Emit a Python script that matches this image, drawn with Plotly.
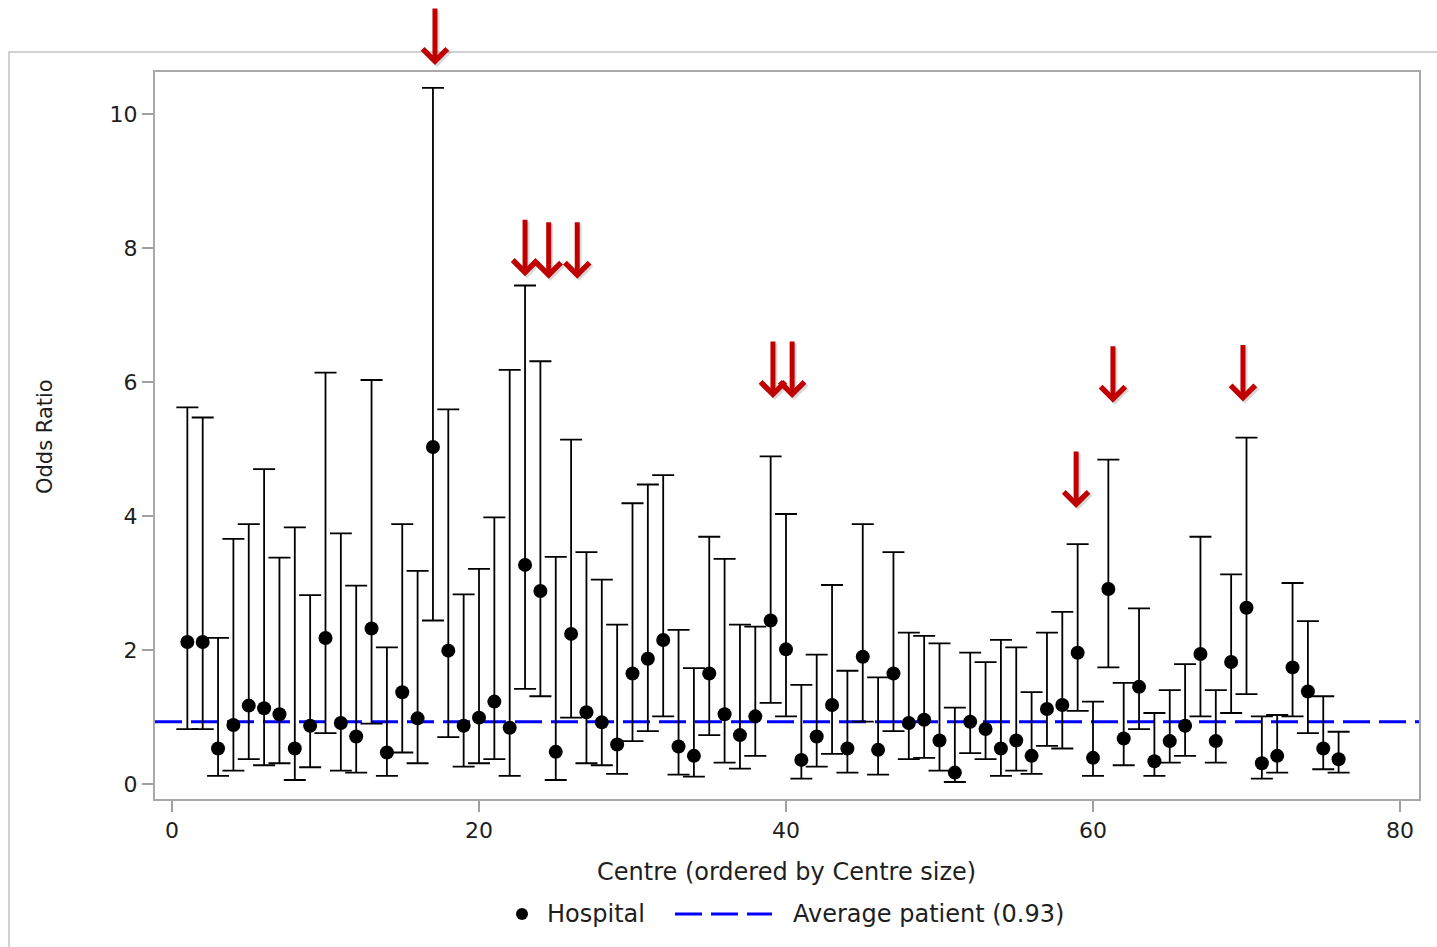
import plotly.graph_objects as go

# ---------------- data ----------------
centre = list(range(1, 77))

odds_ratio = [
    2.12, 2.12, 0.53, 0.88, 1.17, 1.13, 1.04, 0.53, 0.87, 2.18,
    0.91, 0.71, 2.32, 0.47, 1.37, 0.98, 5.03, 1.99, 0.87, 0.99,
    1.23, 0.84, 3.27, 2.88, 0.48, 2.24, 1.07, 0.92, 0.59, 1.65,
    1.87, 2.15, 0.56, 0.42, 1.65, 1.04, 0.73, 1.01, 2.44, 2.01,
    0.36, 0.71, 1.18, 0.53, 1.90, 0.51, 1.65, 0.91, 0.96, 0.65,
    0.17, 0.93, 0.82, 0.53, 0.65, 0.42, 1.12, 1.18, 1.96, 0.39,
    2.91, 0.68, 1.45, 0.34, 0.64, 0.87, 1.94, 0.64, 1.82, 2.63,
    0.31, 0.42, 1.74, 1.38, 0.53, 0.37,
]

upper_ci = [
    5.62, 5.47, 2.18, 3.66, 3.88, 4.70, 3.38, 3.83, 2.82, 6.14,
    3.74, 2.96, 6.03, 2.04, 3.88, 3.18, 10.39, 5.59, 2.83, 3.21,
    3.98, 6.18, 7.44, 6.31, 3.39, 5.14, 3.46, 3.05, 2.38, 4.19,
    4.47, 4.61, 2.30, 1.73, 3.69, 3.36, 2.38, 2.35, 4.89, 4.03,
    1.48, 1.93, 2.97, 1.69, 3.88, 1.59, 3.46, 2.26, 2.21, 2.10,
    1.14, 1.96, 1.82, 2.15, 2.04, 1.37, 2.26, 2.57, 3.58, 1.23,
    4.84, 1.51, 2.62, 1.06, 1.40, 1.79, 3.69, 1.40, 3.13, 5.17,
    1.01, 1.03, 3.00, 2.43, 1.31, 0.78,
]

lower_ci = [
    0.82, 0.82, 0.12, 0.20, 0.37, 0.28, 0.31, 0.06, 0.25, 0.76,
    0.20, 0.17, 0.90, 0.12, 0.47, 0.31, 2.44, 0.70, 0.26, 0.31,
    0.37, 0.12, 1.42, 1.31, 0.06, 0.99, 0.31, 0.28, 0.15, 0.64,
    0.79, 1.01, 0.14, 0.11, 0.73, 0.32, 0.23, 0.42, 1.21, 1.01,
    0.08, 0.26, 0.45, 0.17, 0.93, 0.14, 0.79, 0.37, 0.39, 0.20,
    0.03, 0.46, 0.37, 0.12, 0.20, 0.15, 0.57, 0.53, 1.09, 0.12,
    1.74, 0.28, 0.82, 0.12, 0.32, 0.42, 1.01, 0.32, 1.06, 1.34,
    0.08, 0.17, 1.01, 0.76, 0.22, 0.17,
]

average_patient = 0.93

# flagged centres (arrow x in centre units, arrow tip in odds-ratio units)
arrow_x = [17.13, 23.0, 24.54, 26.4, 39.15, 40.4, 58.9, 61.3, 69.77]
arrow_tip = [10.73, 7.58, 7.54, 7.54, 5.76, 5.76, 4.12, 5.69, 5.71]

x_ticks = [0, 20, 40, 60, 80]
y_ticks = [0, 2, 4, 6, 8, 10]

x_title = "Centre (ordered by Centre size)"
y_title = "Odds Ratio"
legend_hospital = "Hospital"
legend_average = f"Average patient ({average_patient:.2f})"

# ---------------- layout geometry ----------------
W, H = 1437, 947
L, R, T, B = 155, 18, 72, 148
PW, PH = W - L - R, H - T - B

def pxx(px):
    return (px - L) / PW

def pxy(py):
    return (H - B - py) / PH

TXT = "#1e1e1e"
FONT = "DejaVu Sans"
DASH = "27px,9px"

x0_px = 172.0
x_unit = (1400.0 - 172.0) / 80.0
y0_px = 784.0
y_unit = 67.0
x_range = [(L - x0_px) / x_unit, (W - R - x0_px) / x_unit]
y_range = [(y0_px - (H - B)) / y_unit, (y0_px - T) / y_unit]

def y_to_paper(v):
    return (v - y_range[0]) / (y_range[1] - y_range[0])

fig = go.Figure()

fig.add_trace(go.Scatter(
    x=centre, y=odds_ratio, mode="markers",
    marker=dict(color="black", size=14, symbol="circle", line=dict(width=0)),
    error_y=dict(
        type="data", symmetric=False,
        array=[u - o for u, o in zip(upper_ci, odds_ratio)],
        arrayminus=[o - l for o, l in zip(odds_ratio, lower_ci)],
        color="black", thickness=1.8, width=11,
    ),
    showlegend=False, cliponaxis=False, hoverinfo="x+y",
))

shapes = [
    # average patient reference line
    dict(type="line", xref="paper", yref="y", x0=0, x1=1,
         y0=average_patient, y1=average_patient,
         line=dict(color="#0000ff", width=3, dash=DASH), layer="below"),
    # outer frame
    dict(type="rect", xref="paper", yref="paper",
         x0=pxx(9), x1=pxx(W + 10), y0=pxy(52), y1=pxy(H + 10),
         line=dict(color="#d2d2d2", width=2), fillcolor="rgba(0,0,0,0)", layer="below"),
    # legend: marker
    dict(type="circle", xref="paper", yref="paper",
         xsizemode="pixel", ysizemode="pixel",
         xanchor=pxx(522), yanchor=pxy(914),
         x0=-6, x1=6, y0=-6, y1=6,
         fillcolor="black", line=dict(width=0)),
    # legend: dashed line sample
    dict(type="line", xref="paper", yref="paper",
         x0=pxx(675), x1=pxx(772), y0=pxy(914), y1=pxy(914),
         line=dict(color="#0000ff", width=3, dash=DASH)),
]

annotations = [
    dict(text=x_title, xref="paper", yref="paper", x=pxx(786), y=pxy(872),
         xanchor="center", yanchor="middle", showarrow=False,
         font=dict(family=FONT, size=24, color=TXT)),
    dict(text=y_title, xref="paper", yref="paper", x=pxx(45), y=pxy(436),
         xanchor="center", yanchor="middle", showarrow=False, textangle=-90,
         font=dict(family=FONT, size=21, color=TXT)),
    dict(text=legend_hospital, xref="paper", yref="paper", x=pxx(545), y=pxy(914),
         xanchor="left", yanchor="middle", showarrow=False,
         font=dict(family=FONT, size=24, color=TXT)),
    dict(text=legend_average, xref="paper", yref="paper", x=pxx(791), y=pxy(914),
         xanchor="left", yanchor="middle", showarrow=False,
         font=dict(family=FONT, size=24, color=TXT)),
]

for ax_, tip in zip(arrow_x, arrow_tip):
    common = dict(x=ax_, y=y_to_paper(tip), xref="x", yref="paper", text="",
                  showarrow=True, ax=0, ay=-58, arrowhead=4, arrowsize=0.95,
                  arrowwidth=5, standoff=0)
    # soft shadow
    annotations.append(dict(common, arrowcolor="rgba(0,0,0,0.15)", xshift=2, yshift=-2))
    annotations.append(dict(common, arrowcolor="#c00000"))

fig.update_layout(
    width=W, height=H,
    margin=dict(l=L, r=R, t=T, b=B, pad=0),
    paper_bgcolor="white", plot_bgcolor="white",
    showlegend=False,
    font=dict(family=FONT, color=TXT),
    shapes=shapes, annotations=annotations,
)

axis_common = dict(
    showgrid=False, zeroline=False, showline=True, mirror=True,
    linecolor="#a9a9a9", linewidth=2,
    ticks="outside", ticklen=11, tickwidth=1.5, tickcolor="#a0a0a0",
    tickfont=dict(family=FONT, size=22, color=TXT),
)
fig.update_xaxes(range=x_range, tickvals=x_ticks, **axis_common)
fig.update_yaxes(range=y_range, tickvals=y_ticks, **axis_common)

fig.write_html("out.html")
